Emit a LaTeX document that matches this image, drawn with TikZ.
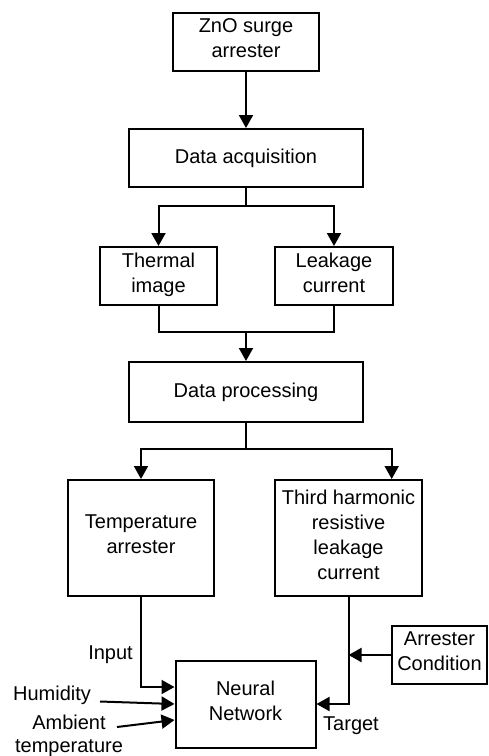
\documentclass[tikz,border=0pt]{standalone}
\usepackage{fontspec}
\setmainfont{Liberation Sans}
\usetikzlibrary{arrows.meta}

\begin{document}
\begin{tikzpicture}[x=0.5pt,y=-0.5pt,
        font=\fontsize{10pt}{12.5pt}\selectfont,
        box/.style={draw,line width=1pt,align=center,inner sep=1pt,
            execute at begin node=\strut,execute at end node=\strut},
        ln/.style={line width=1pt},
        arr/.style={line width=1pt,-{Triangle[length=6.5pt,width=7pt]}}]
        \useasboundingbox (0,0) rectangle (488,756);

        % Blocks
        \node[box,minimum width=73pt,minimum height=29pt] (zno) at (246,42) {ZnO surge\\arrester};
        \node[box,minimum width=117pt,minimum height=29pt] (acq) at (246,158) {Data acquisition};
        \node[box,minimum width=58.5pt,minimum height=29pt] (thermal) at (158.5,276) {Thermal\\image};
        \node[box,minimum width=59pt,minimum height=29pt] (leak) at (334,276) {Leakage\\current};
        \node[box,minimum width=117pt,minimum height=30pt] (proc) at (246,392) {Data processing};
        \node[box,minimum width=73pt,minimum height=58pt] (temp) at (141,538) {Temperature\\arrester};
        \node[box,minimum width=73.5pt,minimum height=58pt] (third) at (348.5,538) {Third harmonic\\resistive\\leakage\\current};
        \node[box,minimum width=70pt,minimum height=43.5pt] (nn) at (245.5,704) {Neural\\Network};
        \node[box,minimum width=47.5pt,minimum height=29pt] (cond) at (439.5,655) {Arrester\\Condition};

        % Labels
        \node (input) at (110.5,655) {Input};
        \node (hum) at (52,695) {Humidity};
        \node[align=center,font=\fontsize{10pt}{11.5pt}\selectfont] (amb) at (69,736) {Ambient\\temperature};
        \node (target) at (351,726) {Target};

        % Junctions
        \coordinate (s1) at (246,206);
        \coordinate (m1) at (246,332);
        \coordinate (s2) at (246,449);
        \coordinate (h1) at (100,701.5);
        \coordinate (a1) at (117,727);

        % Connectors
        \draw[arr] (zno) -- (acq);
        \draw[ln] (acq) -- (s1);
        \draw[arr] (s1) -| (thermal);
        \draw[arr] (s1) -| (leak);
        \draw[ln] (thermal) |- (m1);
        \draw[ln] (leak) |- (m1);
        \draw[arr] (m1) -- (proc);
        \draw[ln] (proc) -- (s2);
        \draw[arr] (s2) -| (temp);
        \draw[arr] (s2) -| ([xshift=21.6pt]third.north);
        \draw[arr] (temp) |- ([yshift=8.5pt]nn.west);
        \draw[arr] (h1) -- (nn.west);
        \draw[arr] (a1) -- ([yshift=-8pt]nn.west);
        \draw[arr] (third) |- (nn.east);
        \draw[arr] (cond) -- (cond.west -| third.south);
    \end{tikzpicture}
\end{document}
